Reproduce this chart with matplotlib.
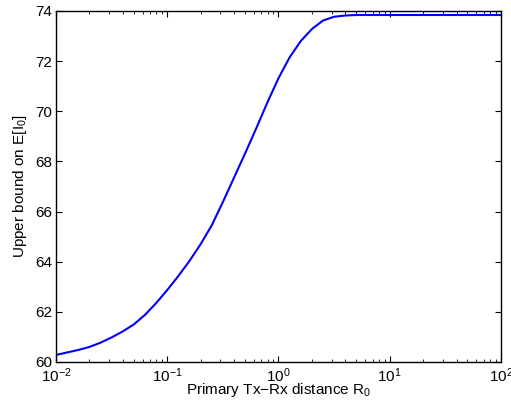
import numpy as np
import matplotlib
matplotlib.use('Agg')
import matplotlib.pyplot as plt
from matplotlib.ticker import LogLocator, NullFormatter, MultipleLocator

plt.rcParams['font.family'] = ['Liberation Sans', 'DejaVu Sans']
plt.rcParams['mathtext.fontset'] = 'custom'
plt.rcParams['mathtext.rm'] = 'Liberation Sans'
plt.rcParams['mathtext.it'] = 'Liberation Sans'
plt.rcParams['mathtext.default'] = 'regular'

# values (log10 of R0, bound)
logR0 = [-2.0, -1.9, -1.8, -1.7, -1.6, -1.5, -1.4, -1.3, -1.2, -1.1,
         -1.0, -0.9, -0.8, -0.7, -0.6, -0.5, -0.4, -0.3, -0.2, -0.1,
         0.0, 0.1, 0.2, 0.3, 0.4, 0.5, 0.6, 0.7, 1.0, 1.5, 2.0]
bound = [60.28, 60.38, 60.48, 60.60, 60.77, 60.98, 61.22, 61.50, 61.88, 62.35,
         62.87, 63.43, 64.03, 64.70, 65.45, 66.38, 67.35, 68.32, 69.32, 70.35,
         71.32, 72.15, 72.80, 73.28, 73.62, 73.77, 73.82, 73.84, 73.84, 73.84, 73.84]

R0 = np.power(10.0, logR0)

fig = plt.figure(figsize=(5.11, 4.07), dpi=100)
ax = fig.add_axes([0.1096, 0.1106, 0.8708, 0.8624])
ax.plot(R0, bound, color='#0000ff', linewidth=1.5)
ax.set_xscale('log')
ax.set_xlim(1e-2, 1e2)
ax.set_ylim(60, 74)
ax.yaxis.set_major_locator(MultipleLocator(2))
ax.xaxis.set_major_locator(LogLocator(base=10, numticks=10))
ax.xaxis.set_minor_locator(LogLocator(base=10, subs=np.arange(2, 10), numticks=20))
ax.xaxis.set_minor_formatter(NullFormatter())
ax.tick_params(which='both', direction='in', top=True, right=True, labelsize=11, colors='black')
ax.tick_params(which='major', length=4, width=0.8, pad=3)
ax.tick_params(which='minor', length=2, width=0.6)
for s in ax.spines.values():
    s.set_linewidth(1.0)

ax.set_xlabel('Primary Tx\u2212Rx distance R$_0$', fontsize=11, labelpad=-3)
ax.set_ylabel('Upper bound on E[I$_0$]', fontsize=11, labelpad=4)

fig.savefig('out.png', dpi=100)
